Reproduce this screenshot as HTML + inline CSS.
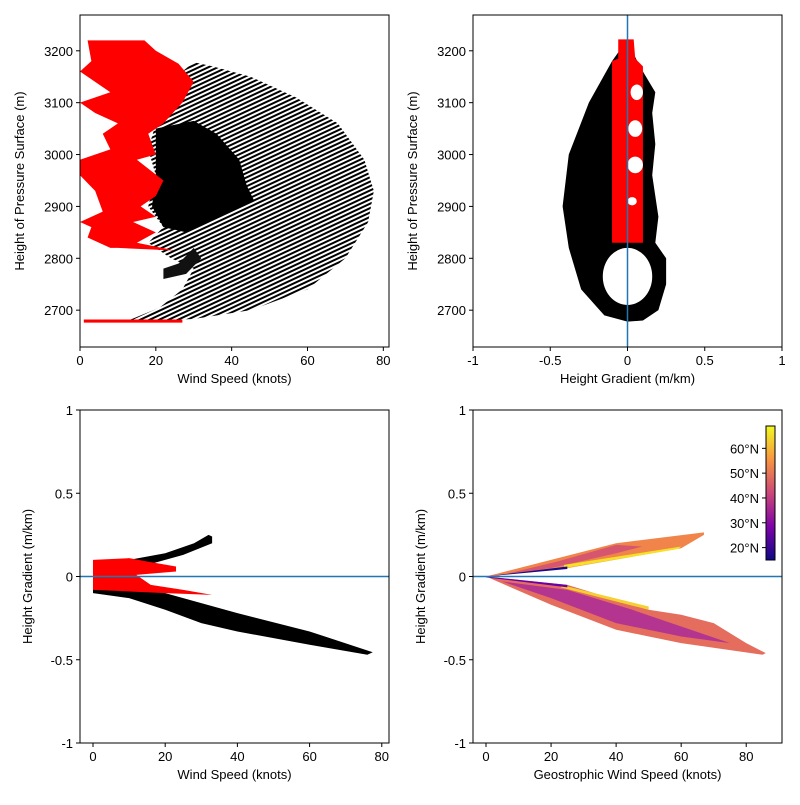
<!DOCTYPE html>
<html><head><meta charset="utf-8"><style>
body{margin:0;background:#fff}
svg text{font-family:"Liberation Sans","DejaVu Sans",sans-serif;font-size:13px;fill:#000}
</style></head><body>
<svg id="c" width="800" height="800" xmlns="http://www.w3.org/2000/svg">
<defs>
<pattern id="stripes" width="4" height="4" patternUnits="userSpaceOnUse" patternTransform="rotate(-25)">
<rect width="4" height="4" fill="#fff"/><rect width="4" height="2" fill="#000"/></pattern>
<linearGradient id="plasma" x1="0" y1="1" x2="0" y2="0">
<stop offset="0" stop-color="#0d0887"/><stop offset="0.25" stop-color="#7e03a8"/><stop offset="0.5" stop-color="#cc4778"/><stop offset="0.75" stop-color="#f89540"/><stop offset="1" stop-color="#f0f921"/></linearGradient>
</defs>
</svg>
<script>
// ---- data ----
const tlBlackOuter=[[12,2678],[30,2683],[45,2700],[60,2740],[70,2800],[76,2870],[77.5,2930],[75,2990],[68,3060],[57,3110],[45,3150],[35,3170],[30,3178],[27,3160],[22,3120],[20,3060],[18,3010],[20,2960],[18,2900],[22,2860],[18,2830],[24,2800],[30,2780],[27,2740],[21,2705]];
const tlBlackDense=[[20,3050],[30,3065],[36,3040],[42,2990],[44,2940],[46,2910],[40,2890],[34,2870],[28,2850],[22,2860],[19,2900],[20,2960]];
const tlBlackLower=[[22,2760],[28,2770],[32,2800],[30,2820],[26,2790],[22,2780]];
const tlRed=[[2,3220],[17,3220],[20,3200],[26,3175],[30,3140],[27,3100],[22,3060],[18,3040],[20,3000],[15,2990],[22,2950],[20,2920],[16,2900],[20,2880],[14,2870],[20,2850],[15,2830],[25,2815],[10,2820],[8,2820],[2,2840],[3,2860],[0,2870],[6,2890],[4,2930],[0,2960],[0,2990],[8,3010],[6,3040],[10,3060],[4,3080],[0,3100],[8,3120],[4,3140],[0,3160],[3,3180]];
const tlRedBottom=[[1,2676],[27,2676],[27,2682],[1,2682]];
const trBlack=[[0,3222],[-0.1,3180],[-0.25,3100],[-0.38,3000],[-0.42,2900],[-0.38,2820],[-0.3,2740],[-0.15,2690],[0,2678],[0.1,2680],[0.2,2700],[0.25,2750],[0.25,2800],[0.18,2830],[0.2,2880],[0.16,2960],[0.18,3020],[0.16,3080],[0.18,3120],[0.12,3150],[0.08,3170],[0.03,3200]];
const trRed=[[-0.1,2830],[0.1,2830],[0.1,3170],[0.05,3185],[0.04,3222],[-0.06,3222],[-0.06,3185],[-0.1,3180]];
const trHoles=[[0.0,2765,0.16,55],[0.05,2980,0.05,16],[0.05,3050,0.045,16],[0.06,3120,0.04,15],[0.03,2910,0.03,8]];
const blBlackUp=[[0,0.06],[10,0.1],[20,0.14],[28,0.2],[32,0.25],[33,0.24],[33,0.2],[25,0.13],[15,0.07],[5,0.04],[0,0.02]];
const blBlackLow=[[0,-0.02],[20,-0.1],[40,-0.22],[60,-0.33],[77.5,-0.455],[76,-0.47],[60,-0.41],[40,-0.33],[30,-0.28],[20,-0.2],[10,-0.13],[0,-0.1]];
const blRed=[[0,0.1],[10,0.11],[15,0.09],[23,0.06],[23,0.03],[12,0.01],[16,-0.05],[25,-0.08],[33,-0.11],[20,-0.1],[10,-0.09],[0,-0.08]];
const brUpOuter=[[0,0],[20,0.1],[40,0.2],[67,0.265],[67,0.25],[60,0.17],[25,0.05],[0,0]];
const brUpInner=[[5,0.01],[22,0.09],[40,0.19],[48,0.18],[40,0.14],[20,0.05]];
const brUpYellow=[[24,0.07],[60,0.18],[59,0.165],[24,0.05]];
const brUpNavy=[[0,0],[25,0.06],[25,0.045],[0,0]];
const brLowOuter=[[0,0],[25,-0.05],[50,-0.2],[60,-0.23],[70,-0.28],[80,-0.4],[86,-0.46],[85,-0.47],[60,-0.4],[40,-0.32],[20,-0.17],[0,0]];
const brLowPurple=[[5,-0.03],[25,-0.08],[45,-0.2],[60,-0.3],[75,-0.4],[60,-0.36],[40,-0.28],[20,-0.13]];
const brLowYellow=[[23,-0.05],[50,-0.18],[50,-0.2],[23,-0.065]];
const brLowNavy=[[0,0],[25,-0.05],[25,-0.065],[0,-0.005]];
const speedTicks=[0,20,40,60,80];
const heightTicks=[2700,2800,2900,3000,3100,3200];
const gradTicks=[-1,-0.5,0,0.5,1];
const gradTickLabels=["-1","-0.5","0","0.5","1"];
const cbTicks=[20,30,40,50,60];
const cbTickLabels=["20°N","30°N","40°N","50°N","60°N"];
// ---- drawing ----
const svg=document.getElementById('c');const NS='http://www.w3.org/2000/svg';
function mk(t,a,p){const e=document.createElementNS(NS,t);for(const k in a)e.setAttribute(k,a[k]);(p||svg).appendChild(e);return e;}
function axes(x0,y0,w,h,xd,yd){return{x0,y0,w,h,sx:v=>x0+(v-xd[0])/(xd[1]-xd[0])*w,sy:v=>y0+h-(v-yd[0])/(yd[1]-yd[0])*h};}
function poly(ax,pts,fill,name){const e=mk('polygon',{points:pts.map(p=>ax.sx(p[0])+','+ax.sy(p[1])).join(' '),fill:fill});

return e;}
function frame(ax,name,xt,xl,yt,yl,xlab,ylab,ylx){
const g=mk('g',{});


mk('rect',{x:ax.x0,y:ax.y0,width:ax.w,height:ax.h,fill:'none',stroke:'#000','stroke-width':1},g);
xt.forEach((v,i)=>{const x=ax.sx(v);mk('line',{x1:x,x2:x,y1:ax.y0+ax.h,y2:ax.y0+ax.h+4,stroke:'#000'},g);
const t=mk('text',{x:x,y:ax.y0+ax.h+18,'text-anchor':'middle'},g);t.textContent=xl[i];

});
yt.forEach((v,i)=>{const y=ax.sy(v);mk('line',{x1:ax.x0-4,x2:ax.x0,y1:y,y2:y,stroke:'#000'},g);
const t=mk('text',{x:ax.x0-7,y:y+5,'text-anchor':'end'},g);t.textContent=yl[i];

});
const xa=mk('text',{x:ax.x0+ax.w/2,y:ax.y0+ax.h+36,'text-anchor':'middle'},g);xa.textContent=xlab;


const cy=ax.y0+ax.h/2;const ya=mk('text',{x:ylx,y:cy,'text-anchor':'middle',transform:`rotate(-90 ${ylx} ${cy})`},g);ya.textContent=ylab;

}
const blue='#1f77b4';
// top-left
const A=axes(80,15,309,332,[0,81.5],[2629,3269]);
poly(A,tlBlackOuter,'url(#stripes)','black-scatter-envelope');
poly(A,tlBlackDense,'#000','black-scatter-dense');
poly(A,tlBlackLower,'#111','black-scatter-lower');
poly(A,tlRed,'#ff0000','red-scatter');
poly(A,tlRedBottom,'#ff0000','red-scatter-bottom');
frame(A,'wind-height-axes',speedTicks,speedTicks.map(String),heightTicks,heightTicks.map(String),'Wind Speed (knots)','Height of Pressure Surface (m)',24);
// top-right
const B=axes(473,15,309,332,[-1,1],[2629,3269]);
poly(B,trBlack,'#000','black-scatter');
poly(B,trRed,'#ff0000','red-scatter');
trHoles.forEach(h=>{const e=mk('ellipse',{cx:B.sx(h[0]),cy:B.sy(h[1]),rx:B.sx(h[2])-B.sx(0),ry:B.sy(0)-B.sy(h[3]),fill:'#fff'});

});
const vl=mk('line',{x1:B.sx(0),x2:B.sx(0),y1:B.y0,y2:B.y0+B.h,stroke:blue,'stroke-width':1.5});


frame(B,'gradient-height-axes',gradTicks,gradTickLabels,heightTicks,heightTicks.map(String),'Height Gradient (m/km)','Height of Pressure Surface (m)',417);
// bottom-left
const C=axes(80,410,309,333,[-3.6,82],[-1,1]);
poly(C,blBlackUp,'#000','black-scatter-positive');
poly(C,blBlackLow,'#000','black-scatter-negative');
poly(C,blRed,'#ff0000','red-scatter');
const h1=mk('line',{x1:C.x0,x2:C.x0+C.w,y1:C.sy(0),y2:C.sy(0),stroke:blue,'stroke-width':1.5});


frame(C,'wind-gradient-axes',speedTicks,speedTicks.map(String),gradTicks,gradTickLabels,'Wind Speed (knots)','Height Gradient (m/km)',32);
// bottom-right
const D=axes(473,410,309,333,[-4,91],[-1,1]);
poly(D,brUpOuter,'#f0844a','geo-scatter-upper');
poly(D,brUpInner,'#d5566e','geo-scatter-upper-mid');
poly(D,brUpYellow,'#f5e126','geo-scatter-upper-high-lat');
poly(D,brUpNavy,'#1a0a8a','geo-scatter-upper-low-lat');
poly(D,brLowOuter,'#e46d5e','geo-scatter-lower');
poly(D,brLowPurple,'#b3358f','geo-scatter-lower-mid');
poly(D,brLowYellow,'#f5d030','geo-scatter-lower-high-lat');
poly(D,brLowNavy,'#6a00a8','geo-scatter-lower-low-lat');
const h2=mk('line',{x1:D.x0,x2:D.x0+D.w,y1:D.sy(0),y2:D.sy(0),stroke:blue,'stroke-width':1.5});


frame(D,'geo-wind-gradient-axes',speedTicks,speedTicks.map(String),gradTicks,gradTickLabels,'Geostrophic Wind Speed (knots)','Height Gradient (m/km)',425);
// colorbar
const cb={x:766,y:426,w:9,h:134,lo:15,hi:69};
const cbr=mk('rect',{x:cb.x,y:cb.y,width:cb.w,height:cb.h,fill:'url(#plasma)',stroke:'#000','stroke-width':1});


cbTicks.forEach((v,i)=>{const y=cb.y+cb.h-(v-cb.lo)/(cb.hi-cb.lo)*cb.h;
mk('line',{x1:cb.x-4,x2:cb.x,y1:y,y2:y,stroke:'#000'});
const t=mk('text',{x:cb.x-7,y:y+5,'text-anchor':'end'});t.textContent=cbTickLabels[i];

});
</script>
</body></html>
